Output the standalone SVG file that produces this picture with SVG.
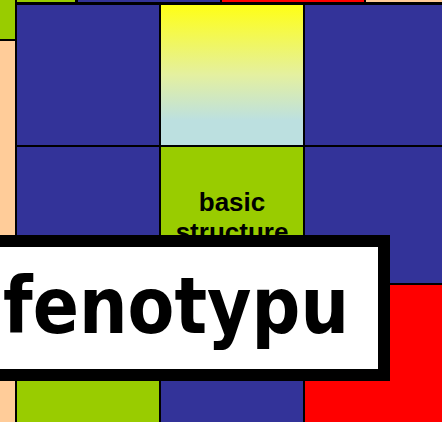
<svg xmlns="http://www.w3.org/2000/svg" width="442" height="422" viewBox="0 0 442 422">
<defs>
<linearGradient id="g1" x1="0" y1="0" x2="0" y2="1">
<stop offset="0" stop-color="#FFFF14"/>
<stop offset="0.5" stop-color="#E4F0A0"/>
<stop offset="0.82" stop-color="#BCE0E0"/>
<stop offset="1" stop-color="#BCE0E0"/>
</linearGradient>
<style>
.c{stroke:#000;stroke-width:2}
.b{fill:#333399}.g{fill:#99CC00}.r{fill:#FF0000}.p{fill:#FFCC99}
.lbl{font-family:"Liberation Sans",Arial,sans-serif;font-weight:bold;font-size:26px;fill:#000;text-anchor:middle}
.big{font-family:"Comic Sans MS","DejaVu Sans",sans-serif;font-weight:bold;font-size:78px;fill:#000}
</style>
</defs>
<g id="top-row">
<rect class="c g" x="15" y="-140" width="61" height="143"/>
<rect class="c b" x="77" y="-140" width="144" height="143"/>
<rect class="c r" x="221" y="-140" width="144" height="143"/>
<rect class="c p" x="365" y="-140" width="144" height="143"/>
</g>
<g id="left-col">
<rect class="c g" x="-20" y="-100" width="36" height="140"/>
<rect class="c p" x="-20" y="40" width="36" height="400"/>
</g>
<g id="r1c1"><rect class="c b" x="16" y="4" width="144" height="142"/></g>
<g id="r1c2"><rect class="c" fill="url(#g1)" x="160" y="4" width="144" height="142"/></g>
<g id="r1c3"><rect class="c b" x="304" y="4" width="144" height="142"/></g>
<g id="r2c1"><rect class="c b" x="16" y="146" width="144" height="138"/></g>
<g id="r2c2"><rect class="c g" x="160" y="146" width="144" height="138"/>
<text class="lbl" x="232" y="211">basic</text>
<text class="lbl" x="232" y="241">structure</text></g>
<g id="r2c3"><rect class="c b" x="304" y="146" width="144" height="138"/></g>
<g id="r3c1"><rect class="c g" x="16" y="284" width="144" height="150"/></g>
<g id="r3c2"><rect class="c b" x="160" y="284" width="144" height="150"/></g>
<g id="r3c3"><rect class="c r" x="304" y="284" width="144" height="150"/></g>
<g id="label-box">
<rect x="-20" y="241" width="404" height="134" fill="#fff" stroke="#000" stroke-width="12"/>
<text class="big" x="3" y="333" textLength="346" lengthAdjust="spacingAndGlyphs">fenotypu</text>
</g>
</svg>
